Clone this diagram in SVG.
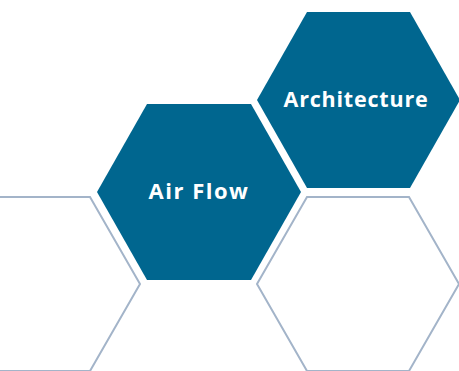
<svg xmlns="http://www.w3.org/2000/svg" width="459" height="371" viewBox="0 0 459 371">
<style>
.fill{fill:#00668f;stroke:none}
.outline{fill:none;stroke:#a3b4c9;stroke-width:2}
.label{font-family:"Open Sans","DejaVu Sans",sans-serif;font-weight:bold;font-size:21.5px;fill:#ffffff;text-anchor:middle;letter-spacing:0.8px}
</style>
<rect width="459" height="371" fill="#ffffff"/>
<g id="outline-left">
<polygon class="outline" points="-62,284 -12,197 90,197 140,284 90,371 -12,371"/>
</g>
<g id="outline-right">
<polygon class="outline" points="257,284 307,197 409,197 459,284 409,371 307,371"/>
</g>
<g id="air-flow">
<polygon class="fill" points="97,192 147,104 251,104 301,192 251,280 147,280"/>
<text class="label" x="199" y="198.5" style="font-size:22px;letter-spacing:1.5px">Air Flow</text>
</g>
<g id="architecture">
<polygon class="fill" points="257,100 307,12 410,12 460,100 410,188 307,188"/>
<text class="label" x="356" y="106.7">Architecture</text>
</g>
<g id="connectors"/>
</svg>
